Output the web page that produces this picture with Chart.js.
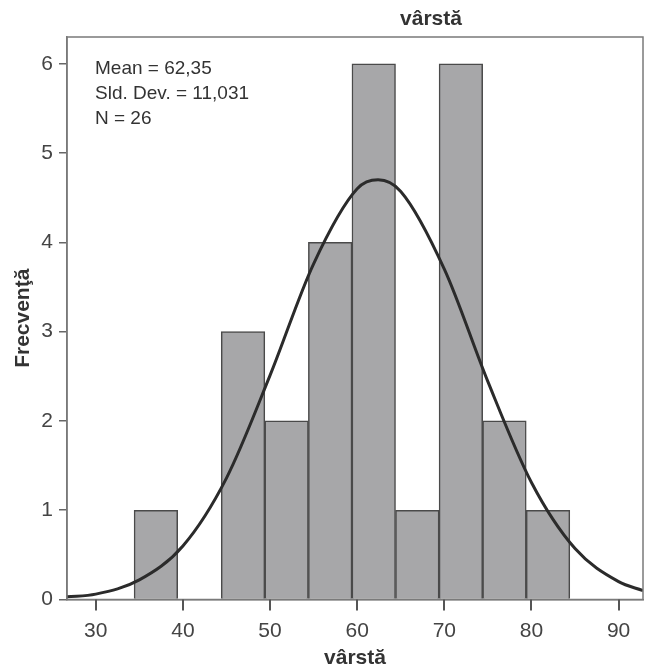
<!DOCTYPE html>
<html>
<head>
<meta charset="utf-8">
<script src="https://cdn.jsdelivr.net/npm/chart.js@4.4.1/dist/chart.umd.min.js"></script>
<style>
  html, body { margin: 0; padding: 0; background: #fff; }
  #wrap { width: 655px; height: 669px; }
</style>
</head>
<body>
<div id="wrap"><canvas id="histChart" width="655" height="669"></canvas></div>
<script>
// histogram bins (centres) and counts
const binCenters = [36.9, 41.9, 46.9, 51.9, 56.9, 61.9, 66.9, 71.9, 76.9, 81.9];
const counts = [1, 0, 3, 2, 4, 6, 1, 6, 2, 1];

// normal curve
const curveX = [26.7, 30, 35, 40, 45, 50, 55, 60, 62.4, 65, 70, 75, 80, 85, 90, 92.8];
const curveY = [0.03, 0.06, 0.22, 0.60, 1.36, 2.51, 3.76, 4.60, 4.70, 4.57, 3.70, 2.44, 1.31, 0.57, 0.20, 0.10];

const xTicks = [30, 40, 50, 60, 70, 80, 90];
const statLines = ['Mean = 62,35', 'Sld. Dev. = 11,031', 'N = 26'];

const FONT = '"Liberation Sans", Arial, Helvetica, sans-serif';

const extras = {
  id: 'extras',
  afterDraw(chart) {
    const { ctx, chartArea: a } = chart;
    const xs = chart.scales.x;
    ctx.save();
    // box around plot
    ctx.strokeStyle = '#7a7a7a';
    ctx.lineWidth = 1.5;
    ctx.strokeRect(a.left, a.top, a.right - a.left, a.bottom - a.top);
    // x tick marks
    ctx.strokeStyle = '#555';
    ctx.lineWidth = 2;
    ctx.beginPath();
    xTicks.forEach(v => {
      const px = Math.round(xs.getPixelForValue(v));
      ctx.moveTo(px, a.bottom);
      ctx.lineTo(px, a.bottom + 11);
    });
    ctx.stroke();
    // title
    ctx.fillStyle = '#333';
    ctx.font = 'bold 21px ' + FONT;
    ctx.textAlign = 'center';
    ctx.textBaseline = 'middle';
    ctx.fillText('vârstă', 431, 19);
    // stats
    ctx.font = '19px ' + FONT;
    ctx.textAlign = 'left';
    statLines.forEach((t, i) => ctx.fillText(t, 95, 69 + i * 25));
    ctx.restore();
  }
};

const ctx = document.getElementById('histChart').getContext('2d');
new Chart(ctx, {
  data: {
    datasets: [
      {
        type: 'line',
        data: curveX.map((x, i) => ({ x: x, y: curveY[i] })),
        borderColor: '#2b2b2b',
        borderWidth: 3,
        pointRadius: 0,
        cubicInterpolationMode: 'monotone',
        fill: false,
        order: 0
      },
      {
        type: 'bar',
        data: binCenters.map((x, i) => ({ x: x, y: counts[i] })),
        backgroundColor: '#a7a7a9',
        borderColor: '#4a4a4a',
        borderWidth: 1.5,
        barPercentage: 1,
        categoryPercentage: 1,
        order: 1
      }
    ]
  },
  options: {
    responsive: false,
    animation: false,
    layout: { padding: { top: 37, right: 12, left: 0, bottom: 0 } },
    plugins: { legend: { display: false }, tooltip: { enabled: false } },
    scales: {
      x: {
        type: 'linear',
        offset: false,
        min: 26.7,
        max: 92.8,
        afterFit(s) { s.height = 69.5; },
        afterBuildTicks(s) { s.ticks = xTicks.map(v => ({ value: v })); },
        grid: { display: false },
        border: { display: true, color: '#7a7a7a', width: 1.5 },
        ticks: { color: '#444', font: { family: FONT, size: 21 }, padding: 11, maxRotation: 0 },
        title: { display: true, text: 'vârstă', color: '#333', font: { family: FONT, size: 21, weight: 'bold', lineHeight: 1.0 }, padding: { top: 0, bottom: 0 } }
      },
      y: {
        min: 0,
        max: 6.3,
        afterFit(s) { s.width = 67; },
        grid: { display: true, drawOnChartArea: false, drawTicks: true, tickLength: 8, color: '#666', lineWidth: 1.5 },
        border: { display: true, color: '#7a7a7a', width: 1.5 },
        ticks: { stepSize: 1, includeBounds: false, color: '#444', font: { family: FONT, size: 21 }, padding: 6 },
        title: { display: true, text: 'Frecvenţă', color: '#333', font: { family: FONT, size: 21, weight: 'bold' }, padding: { top: 11, bottom: 0 } }
      }
    }
  },
  plugins: [extras]
});
</script>
</body>
</html>
